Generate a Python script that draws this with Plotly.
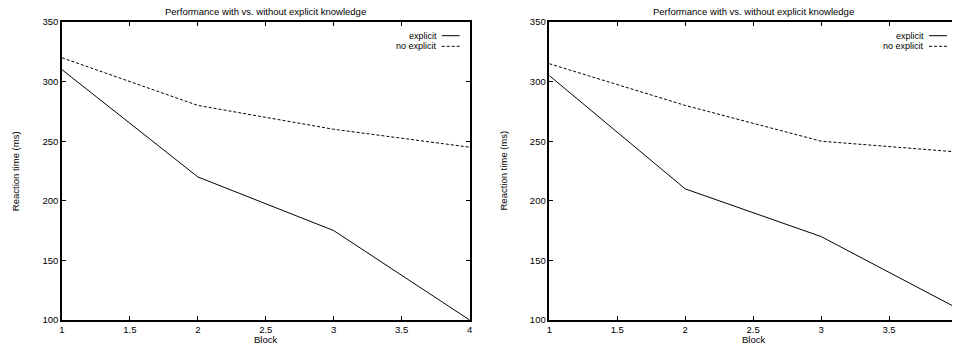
import plotly.graph_objects as go

# Block numbers and mean reaction times (ms) for the two sessions
blocks = [1, 2, 3, 4]
left_explicit = [310, 220, 175, 100]
left_no_explicit = [320, 280, 260, 245]
right_explicit = [305, 210, 170, 110]
right_no_explicit = [315, 280, 250, 241]

title_text = "Performance with vs. without explicit knowledge"
x_title = "Block"
y_title = "Reaction time (ms)"
series_names = ["explicit", "no explicit"]
y_ticks = [100, 150, 200, 250, 300, 350]
x_ticks = [1, 1.5, 2, 2.5, 3, 3.5, 4]

FONT = "Liberation Sans, Arial, Helvetica, sans-serif"
FS = 9.5
KEY_FS = 9
W, H = 955, 345
ML, MT, MB = 62, 22, 25
PW = W - ML            # plotting width in px
PH = H - MT - MB       # plotting height in px
PX_PER_UNIT = 409 / 3  # horizontal scale shared by both panels

# panel pixel extents (right panel runs past the page edge)
left_px = (62, 471)
right_px = (551, 960)


def px2paper_x(px):
    return (px - ML) / PW


def px2paper_y(py):
    return 1 - (py - MT) / PH


fig = go.Figure()

solid = dict(color="black", width=1)
dashed = dict(color="black", width=1, dash="3px,2px")

fig.add_trace(go.Scatter(x=blocks, y=left_explicit, mode="lines", line=solid,
                         xaxis="x", yaxis="y", showlegend=False))
fig.add_trace(go.Scatter(x=blocks, y=left_no_explicit, mode="lines", line=dashed,
                         xaxis="x", yaxis="y", showlegend=False))
fig.add_trace(go.Scatter(x=blocks, y=right_explicit, mode="lines", line=solid,
                         xaxis="x2", yaxis="y2", showlegend=False))
fig.add_trace(go.Scatter(x=blocks, y=right_no_explicit, mode="lines", line=dashed,
                         xaxis="x2", yaxis="y2", showlegend=False))

tickfont = dict(family=FONT, size=FS, color="black")
common_x = dict(showline=True, linecolor="black", linewidth=1.5, ticks="inside",
                ticklen=4, tickcolor="black", tickwidth=1, showgrid=False,
                zeroline=False, tickvals=x_ticks, tickfont=tickfont,
                mirror="ticks")
common_y = dict(showline=True, linecolor="black", linewidth=1.5, ticks="inside",
                ticklen=4, tickcolor="black", tickwidth=1, showgrid=False,
                zeroline=False, tickvals=y_ticks, tickfont=tickfont,
                range=[100, 350])

right_end = 1 + (W - right_px[0]) / PX_PER_UNIT

fig.update_layout(
    width=W, height=H,
    margin=dict(l=ML, r=0, t=MT, b=MB, pad=0),
    paper_bgcolor="white", plot_bgcolor="white",
    font=dict(family=FONT, size=FS, color="black"),
    xaxis=dict(common_x, domain=[px2paper_x(left_px[0]), px2paper_x(left_px[1])],
               range=[1, 4], anchor="y"),
    yaxis=dict(common_y, anchor="x", mirror="ticks"),
    xaxis2=dict(common_x, domain=[px2paper_x(right_px[0]), 1.0],
                range=[1, right_end], anchor="y2"),
    yaxis2=dict(common_y, anchor="x2", mirror=False),
)

annotations = []
shapes = []
txt = dict(family=FONT, size=FS, color="black")
key_txt = dict(family=FONT, size=KEY_FS, color="black")
for (x0, x1) in (left_px, right_px):
    cx = (x0 + x1) / 2
    annotations.append(dict(text=title_text, xref="paper", yref="paper",
                            x=px2paper_x(cx), y=px2paper_y(12),
                            xanchor="center", yanchor="middle",
                            showarrow=False, font=txt))
    annotations.append(dict(text=x_title, xref="paper", yref="paper",
                            x=px2paper_x(cx), y=px2paper_y(339),
                            xanchor="center", yanchor="middle",
                            showarrow=False, font=txt))
    annotations.append(dict(text=y_title, xref="paper", yref="paper",
                            x=px2paper_x(x0 - 47), y=px2paper_y(171),
                            xanchor="center", yanchor="middle", textangle=-90,
                            showarrow=False, font=txt))
    # key: right-aligned labels with line samples to their right
    for i, (name, style) in enumerate(zip(series_names, (solid, dashed))):
        ry = 35.7 + 10.6 * i
        annotations.append(dict(text=name, xref="paper", yref="paper",
                                x=px2paper_x(x1 - 32), y=px2paper_y(ry),
                                xanchor="right", yanchor="middle", borderpad=0,
                                showarrow=False, font=key_txt))
        shapes.append(dict(type="line", xref="paper", yref="paper",
                           x0=px2paper_x(x1 - 28), x1=px2paper_x(x1 - 10),
                           y0=px2paper_y(ry), y1=px2paper_y(ry),
                           line=style))

fig.update_layout(annotations=annotations, shapes=shapes)

fig.write_html("out.html")
